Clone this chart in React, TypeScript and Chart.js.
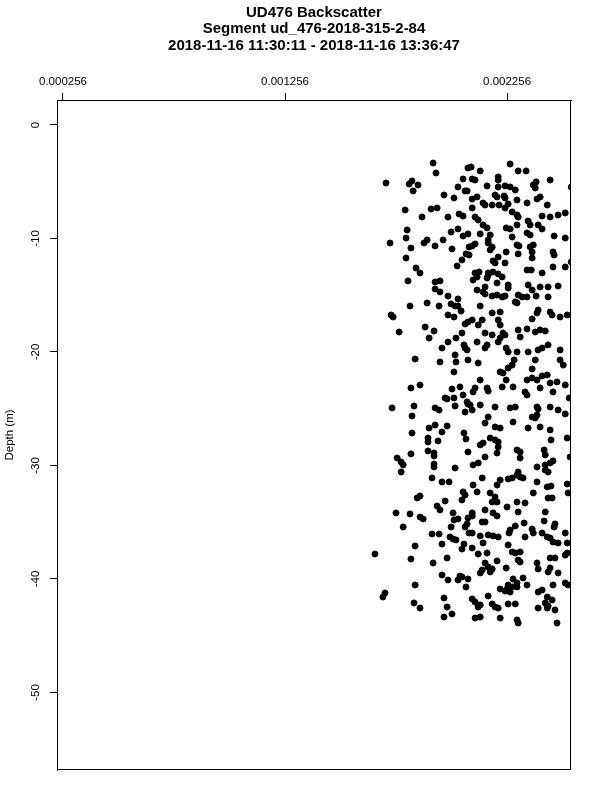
import React, { useEffect, useRef } from "react";
import { Chart, registerables } from "chart.js";

Chart.register(...registerables);

const titleLines = [
  "UD476 Backscatter",
  "Segment ud_476-2018-315-2-84",
  "2018-11-16 11:30:11 - 2018-11-16 13:36:47",
];
const yAxisTitle = "Depth (m)";
const xTickValues = [0.000256, 0.001256, 0.002256];
const xTickLabels = ["0.000256", "0.001256", "0.002256"];
const yTickValues = [0, -10, -20, -30, -40, -50];
const yTickLabels = ["0", "-10", "-20", "-30", "-40", "-50"];
const xRange = [0.000229, 0.002544];
const yRange = [-56.83, 2.2];

// backscatter values (same order as depths)
const backscatter = [
  1.923e-3, 1.936e-3, 1.711e-3, 1.815e-3, 1.828e-3, 1.855e-3, 1.833e-3, 2.035e-3, 2.067e-3, 2.058e-3,
  2.08e-3, 1.972e-3, 2.017e-3, 1.797e-3, 1.914e-3, 1.941e-3, 1.873e-3, 1.99e-3, 2.04e-3, 2.058e-3,
  1.806e-3, 1.801e-3, 1.729e-3, 1.823e-3, 1.882e-3, 1.896e-3, 1.932e-3, 1.968e-3, 2.004e-3, 2.035e-3,
  2.058e-3, 2.08e-3, 2.008e-3, 1.801e-3, 2.053e-3, 2.031e-3, 1.846e-3, 1.864e-3, 2.071e-3, 2.085e-3,
  // z2
  2.094e-3, 2.135e-3, 2.27e-3, 2.306e-3, 2.342e-3, 2.099e-3, 2.112e-3, 2.216e-3, 2.216e-3, 2.166e-3,
  2.216e-3, 2.247e-3, 2.27e-3, 2.293e-3, 2.387e-3, 2.374e-3, 2.383e-3, 2.45e-3, 2.545e-3, 2.076e-3,
  2.202e-3, 2.211e-3, 2.099e-3, 2.121e-3, 2.148e-3, 2.157e-3, 2.189e-3, 2.243e-3, 2.247e-3, 2.261e-3,
  2.247e-3, 2.301e-3, 2.346e-3, 2.391e-3, 2.405e-3, 2.437e-3, 2.099e-3, 2.22e-3, 2.279e-3, 2.301e-3,
  2.306e-3, 2.518e-3, 2.486e-3, 2.45e-3, 2.414e-3, 2.112e-3, 2.126e-3, 2.148e-3, 2.166e-3, 2.301e-3,
  2.351e-3, 2.36e-3, 2.396e-3, 2.414e-3, 2.252e-3, 2.27e-3, 2.135e-3, 2.18e-3, 2.171e-3, 2.171e-3,
  2.279e-3, 2.346e-3, 2.36e-3, 2.468e-3, 2.518e-3, 2.099e-3, 2.112e-3, 2.085e-3, 2.189e-3, 2.18e-3,
  2.252e-3, 2.301e-3, 2.31e-3, 2.36e-3, 2.374e-3, 2.369e-3, 2.306e-3, 2.463e-3, 2.468e-3, 2.216e-3,
  2.193e-3, 2.202e-3, 2.247e-3, 2.369e-3, 2.13e-3, 2.171e-3, 2.193e-3, 2.216e-3, 2.365e-3, 2.414e-3,
  2.463e-3, 2.518e-3, 2.545e-3,
  // z3
  1.81e-3, 1.932e-3, 1.954e-3, 1.932e-3, 1.954e-3, 1.99e-3, 2.035e-3, 1.819e-3, 1.896e-3, 1.95e-3,
  2.004e-3, 2.022e-3, 2.035e-3, 2.049e-3, 1.734e-3, 1.743e-3, 1.99e-3, 2.017e-3, 2.067e-3, 2.08e-3,
  1.77e-3, 1.887e-3, 1.927e-3, 1.905e-3, 1.99e-3, 2.026e-3, 2.053e-3, 2.062e-3, 2.067e-3, 2.076e-3,
  1.963e-3, 2.022e-3, 1.842e-3, 1.954e-3, 2.026e-3, 2.08e-3, 2.017e-3, 1.864e-3, 1.823e-3, 2.044e-3,
  2.008e-3,
  // z4
  2.103e-3, 2.121e-3, 2.112e-3, 2.166e-3, 2.171e-3, 2.211e-3, 2.234e-3, 2.261e-3, 2.261e-3, 2.157e-3,
  2.148e-3, 2.157e-3, 2.121e-3, 2.189e-3, 2.211e-3, 2.234e-3, 2.247e-3, 2.351e-3, 2.369e-3, 2.405e-3,
  2.441e-3, 2.486e-3, 2.346e-3, 2.306e-3, 2.324e-3, 2.346e-3, 2.293e-3, 2.301e-3, 2.387e-3, 2.441e-3,
  2.135e-3, 2.189e-3, 2.225e-3, 2.391e-3, 2.396e-3, 2.45e-3, 2.459e-3, 2.495e-3, 2.527e-3, 2.099e-3,
  2.126e-3, 2.144e-3, 2.216e-3, 2.225e-3, 2.369e-3, 2.189e-3, 2.157e-3, 2.238e-3, 2.247e-3, 2.306e-3,
  2.346e-3, 2.383e-3, 2.405e-3, 2.428e-3, 2.315e-3, 2.225e-3, 2.216e-3, 2.121e-3, 2.166e-3, 2.157e-3,
  2.252e-3, 2.261e-3, 2.301e-3, 2.351e-3, 2.396e-3, 2.414e-3, 2.441e-3, 2.495e-3, 2.126e-3, 2.288e-3,
  2.279e-3, 2.261e-3, 2.383e-3, 2.495e-3, 2.509e-3, 2.369e-3, 2.135e-3, 2.225e-3, 2.238e-3, 2.252e-3,
  2.346e-3, 2.369e-3, 2.391e-3, 2.414e-3, 2.437e-3, 2.481e-3, 2.112e-3, 2.166e-3, 2.234e-3, 2.283e-3,
  2.45e-3,
  // z5
  1.977e-3, 1.986e-3, 2.017e-3, 2.058e-3, 1.738e-3, 1.837e-3, 1.932e-3, 1.95e-3, 2.022e-3, 2.067e-3,
  2.08e-3, 1.828e-3, 1.905e-3, 1.932e-3, 1.986e-3, 1.963e-3, 1.828e-3, 1.9e-3, 1.9e-3, 1.945e-3,
  2.062e-3, 2.071e-3, 1.9e-3, 1.927e-3, 1.927e-3, 1.823e-3, 2.08e-3, 1.761e-3, 1.779e-3, 1.788e-3,
  1.927e-3, 1.927e-3, 2.022e-3, 1.779e-3, 1.918e-3, 1.963e-3, 1.995e-3, 2.058e-3, 2.067e-3, 1.851e-3,
  1.864e-3, 1.977e-3, 2.053e-3,
  // z6
  2.103e-3, 2.171e-3, 2.337e-3, 2.346e-3, 2.405e-3, 2.463e-3, 2.518e-3, 2.536e-3, 2.076e-3, 2.09e-3,
  2.099e-3, 2.135e-3, 2.202e-3, 2.27e-3, 2.293e-3, 2.391e-3, 2.396e-3, 2.45e-3, 2.486e-3, 2.518e-3,
  2.369e-3, 2.383e-3, 2.391e-3, 2.171e-3, 2.157e-3, 2.202e-3, 2.225e-3, 2.283e-3, 2.351e-3, 2.405e-3,
  2.45e-3, 2.18e-3, 2.202e-3, 2.216e-3, 2.135e-3, 2.148e-3, 2.216e-3, 2.454e-3, 2.527e-3, 2.301e-3,
  2.315e-3, 2.423e-3, 2.428e-3, 2.211e-3, 2.157e-3, 2.315e-3, 2.54e-3, 2.103e-3, 2.126e-3, 2.391e-3,
  2.428e-3, 2.45e-3, 2.463e-3, 2.428e-3, 2.441e-3, 2.306e-3, 2.301e-3, 2.315e-3, 2.279e-3, 2.261e-3,
  2.328e-3, 2.144e-3, 2.225e-3, 2.391e-3, 2.103e-3, 2.211e-3, 2.437e-3, 2.454e-3, 2.527e-3, 2.121e-3,
  2.18e-3, 2.374e-3, 2.441e-3, 2.459e-3, 2.202e-3, 2.211e-3, 2.301e-3, 2.337e-3, 2.531e-3,
  // z7
  1.941e-3, 1.954e-3, 1.756e-3, 1.819e-3, 1.864e-3, 1.878e-3, 2.013e-3, 2.017e-3, 2.035e-3, 2.08e-3,
  1.788e-3, 2.004e-3, 2.067e-3, 1.918e-3, 1.95e-3, 1.999e-3, 2.013e-3, 2.026e-3, 2.085e-3, 1.842e-3,
  1.963e-3, 2.062e-3, 2.053e-3, 1.661e-3, 1.823e-3, 1.923e-3, 1.986e-3, 1.963e-3, 1.99e-3, 2.044e-3,
  2.035e-3, 2.053e-3, 2.071e-3, 1.842e-3, 1.706e-3, 1.697e-3, 1.972e-3, 1.837e-3, 1.864e-3, 1.986e-3,
  1.972e-3, 2.008e-3,
  // z8
  2.189e-3, 2.256e-3, 2.099e-3, 2.099e-3, 2.157e-3, 2.193e-3, 2.211e-3, 2.306e-3, 2.428e-3, 2.144e-3,
  2.157e-3, 2.076e-3, 2.293e-3, 2.333e-3, 2.423e-3, 2.472e-3, 2.468e-3, 2.27e-3, 2.265e-3, 2.369e-3,
  2.374e-3, 2.099e-3, 2.135e-3, 2.171e-3, 2.193e-3, 2.216e-3, 2.337e-3, 2.414e-3, 2.437e-3, 2.45e-3,
  2.463e-3, 2.486e-3, 2.518e-3, 2.527e-3, 2.148e-3, 2.261e-3, 2.099e-3, 2.279e-3, 2.293e-3, 2.315e-3,
  2.126e-3, 2.166e-3, 2.315e-3, 2.306e-3, 2.391e-3, 2.45e-3, 2.472e-3, 2.518e-3, 2.527e-3, 2.211e-3,
  2.157e-3, 2.171e-3, 2.189e-3, 2.18e-3, 2.144e-3, 2.135e-3, 2.252e-3, 2.396e-3, 2.45e-3, 2.441e-3,
  2.486e-3, 2.328e-3, 2.08e-3, 2.283e-3, 2.463e-3, 2.518e-3, 2.531e-3, 2.261e-3, 2.279e-3, 2.301e-3,
  2.301e-3, 2.256e-3, 2.225e-3, 2.247e-3, 2.27e-3, 2.346e-3, 2.396e-3, 2.414e-3, 2.171e-3, 2.099e-3,
  2.112e-3, 2.126e-3, 2.135e-3, 2.189e-3, 2.202e-3, 2.216e-3, 2.261e-3, 2.293e-3, 2.437e-3, 2.459e-3,
  2.428e-3, 2.441e-3, 2.437e-3, 2.396e-3, 2.472e-3, 2.112e-3, 2.135e-3, 2.225e-3, 2.301e-3, 2.306e-3,
  2.481e-3,
];

// depths in metres (negative = below surface)
const depth = [
  -3.35, -4.23, -5.11, -5.2, -4.93, -5.29, -5.81, -5.46, -5.81, -4.76,
  -3.79, -6.17, -6.43, -7.49, -7.4, -7.31, -8.11, -8.11, -7.84, -8.02,
  -9.25, -9.96, -10.4, -10.84, -10.4, -10.13, -10.66, -10.13, -9.43, -9.16,
  -9.78, -9.6, -10.92, -11.72, -11.89, -12.42, -12.6, -13.04, -11.36, -10.75,
  // z2
  -3.7, -4.05, -3.44, -4.05, -4.05, -4.76, -4.85, -4.58, -4.85, -5.37,
  -5.46, -5.37, -5.46, -5.73, -5.02, -5.29, -5.55, -4.85, -5.46, -5.81,
  -6.17, -6.34, -6.52, -6.34, -6.87, -7.05, -7.05, -6.26, -6.43, -6.96,
  -7.31, -6.61, -6.87, -6.52, -6.34, -7.05, -7.31, -7.05, -7.66, -7.93,
  -8.11, -7.75, -7.93, -8.11, -8.02, -8.11, -8.37, -8.81, -9.07, -8.81,
  -8.46, -8.81, -8.81, -9.16, -9.07, -9.16, -9.6, -9.69, -10.13, -10.4,
  -9.87, -9.51, -9.69, -9.78, -9.96, -10.66, -10.48, -11.45, -10.75, -11.01,
  -11.19, -10.57, -10.66, -10.75, -10.57, -11.19, -11.36, -11.19, -11.45, -11.63,
  -11.98, -12.16, -12.16, -11.72, -12.95, -13.04, -12.95, -13.13, -12.78, -13.04,
  -12.51, -12.51, -12.07,
  // z3
  -13.74, -13.83, -13.74, -14.45, -14.71, -15.07, -15.33, -15.95, -15.68, -15.95,
  -15.77, -15.95, -15.95, -16.39, -16.74, -16.92, -16.74, -16.92, -17.53, -17.36,
  -18.24, -17.8, -18.15, -18.77, -19.12, -18.77, -18.33, -19.38, -19.65, -19.82,
  -19.65, -20.26, -20.62, -20.88, -20.88, -20.7, -21.76, -22.91, -23.17, -23.08,
  -23.26,
  // z4
  -13.66, -13.39, -13.04, -13.48, -13.22, -13.92, -13.39, -14.1, -14.36, -14.27,
  -14.71, -14.89, -14.54, -15.07, -14.98, -15.15, -15.07, -14.1, -14.54, -14.27,
  -14.27, -14.19, -12.78, -14.98, -15.15, -15.15, -15.59, -15.68, -15.07, -15.15,
  -15.95, -16.56, -16.48, -16.56, -16.3, -16.48, -16.74, -16.92, -16.74, -17.18,
  -17.62, -17.18, -17.18, -17.62, -17.09, -18.5, -18.33, -18.33, -18.5, -18.06,
  -17.97, -18.24, -18.06, -18.15, -18.68, -18.77, -19.12, -19.12, -19.38, -19.65,
  -19.65, -20.0, -20.0, -20.0, -19.82, -19.65, -19.38, -19.82, -20.97, -20.7,
  -21.15, -21.41, -20.7, -20.7, -21.15, -21.5, -22.47, -21.76, -21.85, -22.47,
  -22.47, -22.29, -22.47, -22.11, -22.03, -22.64, -23.17, -23.17, -23.08, -23.08,
  -22.73,
  // z5
  -24.05, -24.14, -24.05, -23.79, -24.93, -24.76, -24.93, -25.11, -24.76, -25.29,
  -24.58, -25.64, -26.7, -26.43, -26.52, -27.05, -27.14, -27.58, -27.93, -27.84,
  -27.14, -27.66, -28.72, -28.9, -29.16, -28.98, -28.81, -29.34, -29.69, -29.95,
  -29.87, -30.13, -30.22, -30.57, -31.1, -31.45, -31.45, -32.33, -32.6, -32.86,
  -32.69, -33.13, -33.04,
  // z6
  -23.52, -23.44, -23.52, -23.79, -23.17, -23.52, -22.91, -24.05, -24.4, -24.67,
  -25.11, -24.67, -24.85, -24.93, -24.85, -24.85, -25.02, -24.85, -25.11, -25.46,
  -25.73, -25.81, -25.55, -25.73, -26.26, -26.61, -26.7, -26.17, -26.7, -26.61,
  -26.87, -27.58, -27.75, -27.93, -28.19, -28.02, -28.37, -27.75, -27.58, -28.63,
  -28.81, -28.63, -29.07, -28.9, -29.25, -29.34, -29.25, -29.95, -29.78, -30.13,
  -29.95, -29.78, -29.6, -30.4, -30.57, -30.57, -30.84, -31.01, -31.1, -31.19,
  -31.1, -31.1, -31.28, -31.45, -31.72, -31.72, -31.89, -31.81, -31.63, -32.33,
  -32.42, -32.42, -32.86, -32.86, -32.78, -33.22, -33.22, -33.3, -32.42,
  // z7
  -33.57, -33.92, -34.18, -34.27, -34.54, -34.71, -34.18, -34.8, -34.71, -34.62,
  -35.42, -35.42, -35.42, -36.04, -36.04, -36.3, -36.48, -36.56, -35.95, -37.09,
  -36.92, -36.92, -37.36, -37.8, -38.24, -38.59, -38.15, -39.65, -40.09, -39.74,
  -40.09, -39.82, -40.7, -40.53, -41.23, -41.59, -41.67, -42.11, -42.56, -42.47,
  -43.35, -43.08,
  // z8
  -33.22, -33.66, -34.18, -34.45, -33.92, -34.18, -34.45, -34.1, -34.1, -34.98,
  -34.98, -35.15, -35.33, -35.07, -34.89, -35.15, -35.42, -35.68, -35.95, -35.6,
  -35.95, -35.95, -36.21, -36.12, -36.21, -36.3, -36.3, -35.95, -36.3, -36.39,
  -36.74, -36.83, -35.95, -36.83, -36.83, -37.0, -37.27, -37.62, -37.71, -37.62,
  -37.8, -37.71, -38.5, -38.33, -38.59, -38.15, -38.15, -37.89, -37.71, -38.41,
  -38.59, -38.94, -39.12, -39.38, -39.21, -39.47, -39.03, -39.12, -39.03, -39.38,
  -39.47, -39.91, -40.0, -40.0, -40.53, -40.35, -40.53, -40.53, -40.7, -40.7,
  -40.35, -40.88, -40.88, -41.06, -41.15, -40.53, -41.15, -40.97, -41.5, -41.76,
  -42.03, -42.47, -42.29, -42.2, -42.47, -42.56, -42.2, -42.2, -41.59, -41.85,
  -42.11, -42.38, -42.56, -42.56, -42.73, -43.44, -43.35, -43.44, -43.61, -43.88,
  -43.88,
];

const FONT = "'Liberation Sans', Arial, Helvetica, sans-serif";

const overlayPlugin = {
  id: "rStyleOverlay",
  afterDraw(chart: any) {
    const { ctx, chartArea, scales } = chart;
    ctx.save();
    // frame box
    ctx.strokeStyle = "#000";
    ctx.lineWidth = 1;
    ctx.strokeRect(
      Math.round(chartArea.left) + 0.5,
      Math.round(chartArea.top) + 0.5,
      Math.round(chartArea.right - chartArea.left) - 1,
      Math.round(chartArea.bottom - chartArea.top) - 1
    );
    // title
    ctx.fillStyle = "#000";
    ctx.textAlign = "center";
    ctx.textBaseline = "middle";
    ctx.font = `bold 15px ${FONT}`;
    const cx = (chartArea.left + chartArea.right) / 2;
    titleLines.forEach((t, i) => ctx.fillText(t, cx, 12.5 + i * 16.5));
    // y tick labels (rotated, R style)
    ctx.font = `11.5px ${FONT}`;
    const ys = scales.y;
    yTickValues.forEach((v, i) => {
      ctx.save();
      ctx.translate(36, ys.getPixelForValue(v));
      ctx.rotate(-Math.PI / 2);
      ctx.fillText(yTickLabels[i], 0, 0);
      ctx.restore();
    });
    // y axis title
    ctx.save();
    ctx.translate(10, (chartArea.top + chartArea.bottom) / 2);
    ctx.rotate(-Math.PI / 2);
    ctx.fillText(yAxisTitle, 0, 0);
    ctx.restore();
    ctx.restore();
  },
};

export default function App() {
  const ref = useRef<HTMLCanvasElement | null>(null);
  useEffect(() => {
    if (!ref.current) return;
    const points = backscatter.map((b, i) => ({ x: b, y: depth[i] }));
    const chart = new Chart(ref.current, {
      type: "scatter",
      data: {
        datasets: [
          {
            data: points,
            backgroundColor: "#000",
            borderColor: "#000",
            pointRadius: 3,
            borderWidth: 1,
            pointHoverRadius: 3,
          },
        ],
      },
      options: {
        responsive: false,
        animation: false,
        events: [],
        layout: { padding: { left: 0, right: 29, top: 0, bottom: 30 } },
        plugins: {
          legend: { display: false },
          title: { display: false },
          tooltip: { enabled: false },
        },
        scales: {
          x: {
            type: "linear",
            position: "top",
            min: xRange[0],
            max: xRange[1],
            afterBuildTicks: (scale: any) => {
              scale.ticks = xTickValues.map((v) => ({ value: v }));
            },
            afterFit: (scale: any) => {
              scale.height = 100;
            },
            ticks: {
              color: "#000",
              font: { family: FONT, size: 11.5 },
              padding: 4,
              maxRotation: 0,
              minRotation: 0,
              callback: (v: any) => {
                const idx = xTickValues.indexOf(v);
                return idx >= 0 ? xTickLabels[idx] : "";
              },
            },
            grid: {
              drawOnChartArea: false,
              drawTicks: true,
              tickLength: 7,
              color: "#000",
              lineWidth: 1,
            },
            border: { display: true, color: "#000", width: 1 },
          },
          y: {
            type: "linear",
            min: yRange[0],
            max: yRange[1],
            afterBuildTicks: (scale: any) => {
              scale.ticks = yTickValues.map((v) => ({ value: v }));
            },
            afterFit: (scale: any) => {
              scale.width = 57;
            },
            ticks: { display: false },
            grid: {
              drawOnChartArea: false,
              drawTicks: true,
              tickLength: 7,
              color: "#000",
              lineWidth: 1,
            },
            border: { display: true, color: "#000", width: 1 },
          },
        },
      },
      plugins: [overlayPlugin],
    });
    return () => chart.destroy();
  }, []);
  return (
    <div style={{ position: "fixed", left: 0, top: 0, width: 600, height: 800, background: "#fff" }}>
      <canvas ref={ref} width={600} height={800} style={{ width: 600, height: 800, display: "block" }} />
    </div>
  );
}
